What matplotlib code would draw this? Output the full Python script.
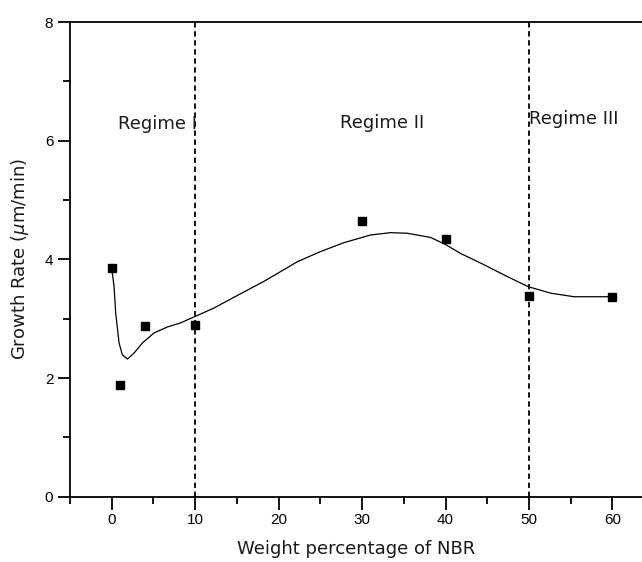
import matplotlib
matplotlib.use("Agg")
import matplotlib.pyplot as plt
from matplotlib.ticker import MultipleLocator

plt.rcParams['font.family'] = ['Liberation Sans', 'DejaVu Sans']
plt.rcParams['mathtext.fontset'] = 'custom'
plt.rcParams['mathtext.it'] = 'DejaVu Sans:italic'
plt.rcParams['mathtext.rm'] = 'DejaVu Sans'

# Measured growth rates
nbr_wt = [0, 1, 4, 10, 30, 40, 50, 60]
growth_rate = [3.85, 1.88, 2.87, 2.90, 4.65, 4.35, 3.38, 3.37]

# Fitted trend curve
fit_x = [0.0, 0.28, 0.48, 0.88, 1.28, 1.88, 2.67, 3.67, 5.07, 6.67, 8.27, 9.86,
         12.26, 14.5, 18.25, 22.25, 25.0, 27.8, 31.0, 33.4, 35.4, 38.2, 40.0,
         41.8, 44.6, 47.4, 49.9, 52.6, 55.4, 59.4, 60.0]
fit_y = [3.85, 3.54, 3.09, 2.59, 2.39, 2.32, 2.42, 2.59, 2.76, 2.86, 2.93, 3.03,
         3.18, 3.35, 3.63, 3.96, 4.13, 4.28, 4.41, 4.45, 4.44, 4.37, 4.25,
         4.10, 3.91, 3.71, 3.54, 3.43, 3.37, 3.37, 3.37]

boundaries = [10, 50]
regime_labels = ["Regime I", "Regime II", "Regime III"]
regime_pos = [(0.7, 6.28), (27.3, 6.30), (50.0, 6.36)]

label_font = dict(family='DejaVu Sans', fontsize=13, color='#1a1a1a')

fig = plt.figure(figsize=(6.42, 5.62), dpi=100)
W, H = 642, 562
ax = fig.add_axes([70 / W, (H - 496.7) / H, 572 / W, (496.7 - 22) / H])

ax.plot(fit_x, fit_y, color='black', lw=0.9)
ax.plot(nbr_wt, growth_rate, ls='none', marker='s', ms=5.5, color='black')

for b in boundaries:
    ax.axvline(b, color='black', lw=1.3, ls=(0, (3, 2)))

for (tx, ty), lab in zip(regime_pos, regime_labels):
    ax.text(tx, ty, lab, va='center', ha='left', **label_font)

ax.set_xlim(-5, -5 + 572 / 8.345)
ax.set_ylim(0, 8)
ax.set_xticks([0, 10, 20, 30, 40, 50, 60])
ax.xaxis.set_minor_locator(MultipleLocator(5))
ax.yaxis.set_major_locator(MultipleLocator(2))
ax.yaxis.set_minor_locator(MultipleLocator(1))

ax.spines['right'].set_visible(False)
for s in ['left', 'bottom', 'top']:
    ax.spines[s].set_linewidth(1.3)

ax.tick_params(which='major', direction='out', length=9, width=1.3, labelsize=11, pad=3)
ax.tick_params(which='minor', direction='out', length=5, width=1.3)
ax.tick_params(top=False, right=False, which='both')

ax.set_xlabel('Weight percentage of NBR', labelpad=9, **label_font)
ax.set_ylabel(r'Growth Rate ($\mu$m/min)', labelpad=10, **label_font)

fig.savefig('out.png', dpi=100)
